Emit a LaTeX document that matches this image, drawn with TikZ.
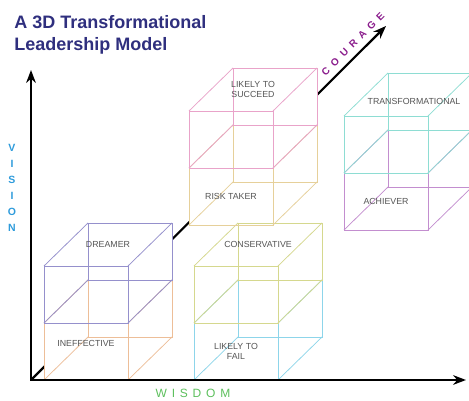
\documentclass[tikz,border=0pt]{standalone}
\usepackage{fontspec}
\setmainfont{Liberation Sans}
\usetikzlibrary{arrows.meta, calc}
\definecolor{titlec}{HTML}{2F2F7E}
\definecolor{visc}{HTML}{2E9BDB}
\definecolor{wisc}{HTML}{5CBF5C}
\definecolor{courc}{HTML}{8A1C8C}
\definecolor{dreamc}{HTML}{9590CC}
\definecolor{ineffc}{HTML}{EDBE98}
\definecolor{consc}{HTML}{D5D88E}
\definecolor{failc}{HTML}{8DD5EA}
\definecolor{succc}{HTML}{E9A3C9}
\definecolor{riskc}{HTML}{E6D09A}
\definecolor{transc}{HTML}{8EDDD3}
\definecolor{achc}{HTML}{C38ECF}
\definecolor{lblc}{HTML}{555555}
% white silhouette of one block, hides what lies behind it
\newcommand{\boxshade}[1]{%
  \fill[white] #1 -- ++(84,0) -- ++(44,-43) -- ++(0,-57)
    -- ++(-84,0) -- ++(-44,43) -- cycle;
}
% wire-frame block: #1 name, #2 front lower left corner, #3 colour
\newcommand{\block}[3]{%
  \coordinate (#1) at #2;
  \draw[#3] (#1) rectangle ++(84,-57);
  \draw[#3] ($(#1)+(44,-43)$) rectangle ++(84,-57);
  \foreach \dx/\dy in {0/0, 84/0, 0/-57, 84/-57}
    \draw[#3] ($(#1)+(\dx,\dy)$) -- ++(44,-43);
  \coordinate (#1-f) at ($(#1)+(42,-28.5)$);
  \coordinate (#1-t) at ($(#1)+(64,-78.5)$);
}

\begin{document}
\begin{tikzpicture}[x=1pt, y=-1pt, >=Stealth, line width=0.75pt,
    axis/.style={line width=2.2pt, black},
    lbl/.style={font=\fontsize{8.8}{10.5}\selectfont, text=lblc,
      align=center, inner sep=0pt}]
  \useasboundingbox (0,0) rectangle (469,401);
  \clip (0,0) rectangle (469,401);
  \coordinate (o) at (31,380);
  \coordinate (vtop) at (31,70);
  \coordinate (wend) at (466,380);
  \coordinate (cend) at (386,26);
  % courage axis runs behind the blocks
  \draw[->, axis] (o) -- (cend);
  \foreach \x/\y in {44/380, 44/323, 194/380, 194/323,
                     189/225, 189/168, 344/230, 344/173}
    \boxshade{(\x,\y)};
  \block{ineff}{(44,380)}{ineffc}
  \block{dream}{(44,323)}{dreamc}
  \block{fail}{(194,380)}{failc}
  \block{cons}{(194,323)}{consc}
  \block{risk}{(189,225)}{riskc}
  \block{succ}{(189,168)}{succc}
  \block{ach}{(344,230)}{achc}
  \block{trans}{(344,173)}{transc}
  \draw[<->, axis] (vtop) -- (o) -- (wend);
  % block labels
  \node[lbl] (l-dream) at (dream-t) {DREAMER};
  \node[lbl] (l-ineff) at ([yshift=8pt]ineff-f) {INEFFECTIVE};
  \node[lbl] (l-cons) at (cons-t) {CONSERVATIVE};
  \node[lbl] (l-fail) at (fail-f) {LIKELY TO\\FAIL};
  \node[lbl] (l-risk) at (risk-f) {RISK TAKER};
  \node[lbl] (l-succ) at (succ-t) {LIKELY TO\\SUCCEED};
  \node[lbl] (l-ach) at (ach-f) {ACHIEVER};
  \node[lbl] (l-trans) at ([xshift=6pt, yshift=-7pt]trans-t) {TRANSFORMATIONAL};
  % title and axis names
  \node[anchor=north west, align=left, inner sep=0pt, text=titlec,
        font=\bfseries\fontsize{18}{22}\selectfont] (title) at (14,15)
    {A 3D Transformational\\Leadership Model};
  \node[align=center, inner sep=0pt, text=visc,
        font=\bfseries\fontsize{10.5}{16}\selectfont] (vision) at (12,188)
    {V\\I\\S\\I\\O\\N};
  \node[inner sep=0pt, text=wisc,
        font=\fontsize{12}{14}\selectfont\addfontfeature{LetterSpace=40}]
    (wisdom) at (193,393) {WISDOM};
  \node[rotate=45, inner sep=0pt, text=courc,
        font=\bfseries\fontsize{10}{12}\selectfont\addfontfeature{LetterSpace=55}]
    (courage) at (353,44) {COURAGE};
\end{tikzpicture}
\end{document}
